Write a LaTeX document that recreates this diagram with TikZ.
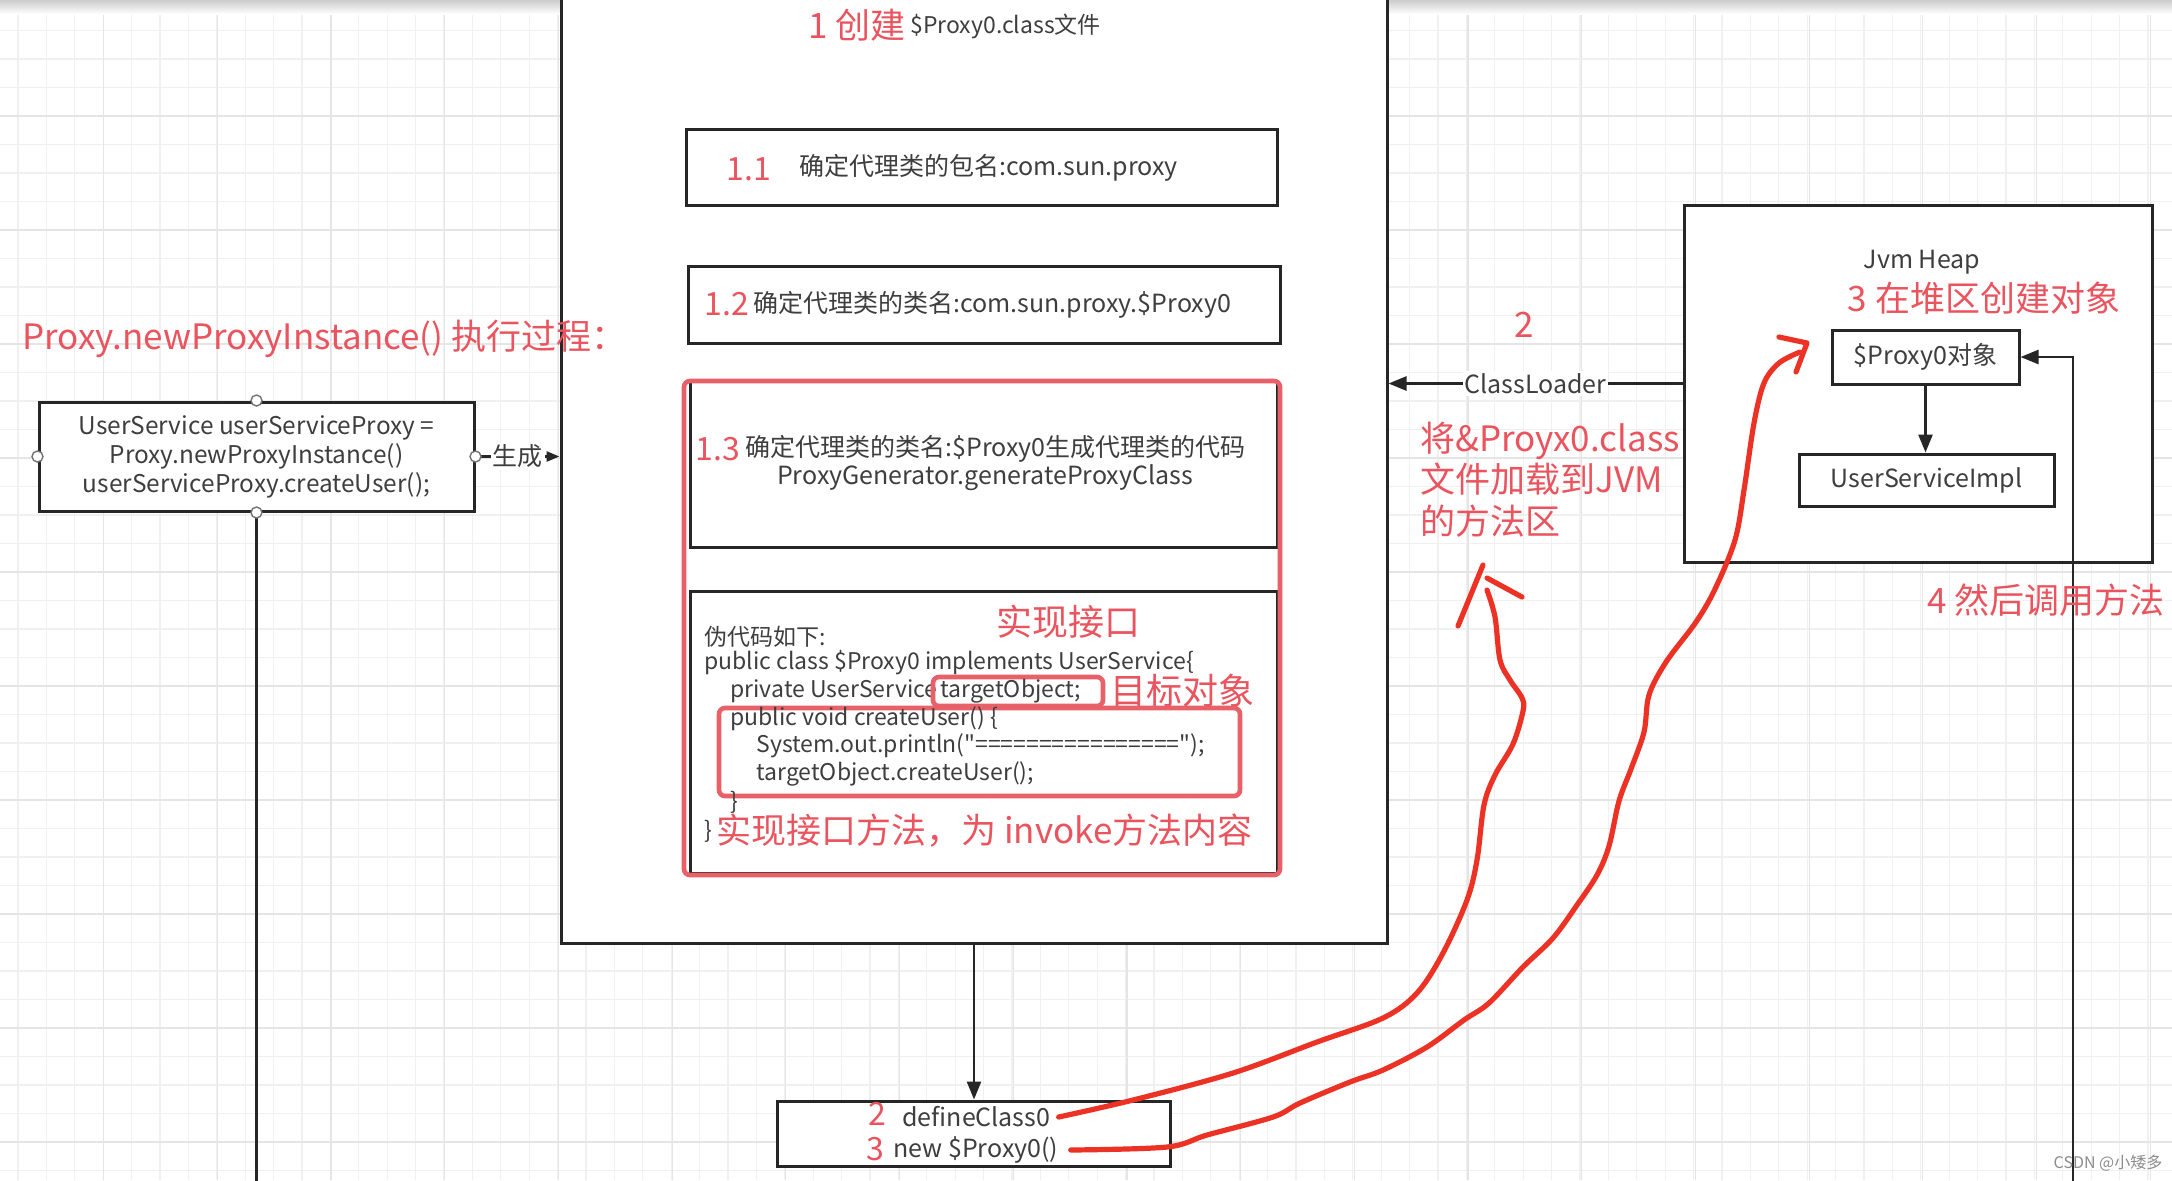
\documentclass[tikz,border=0pt]{standalone}
\usepackage{fontspec}
\setmainfont{Noto Sans CJK SC}[Ligatures=TeXOff]
\usetikzlibrary{arrows.meta}
\definecolor{tgray}{RGB}{62,62,62}
\definecolor{lred}{RGB}{234,84,94}
\definecolor{bred}{RGB}{232,96,104}
\definecolor{hred}{RGB}{236,50,36}
\definecolor{lineblk}{RGB}{38,38,38}
\newcommand\fsz[2]{\fontsize{#1}{#2}\selectfont}
\begin{document}
\begin{tikzpicture}[x=0.5pt,y=-0.5pt,
  box/.style={draw=lineblk, line width=1.5pt, fill=white, inner sep=0pt},
  rbox/.style={draw=bred, line width=2.3pt, rounded corners=3pt, inner sep=0pt},
  conn/.style={draw=lineblk, line width=1.3pt, -{Triangle[length=9pt,width=7pt]}},
  plainline/.style={draw=lineblk, line width=1.3pt},
  gtxt/.style={text=tgray, inner sep=0pt, font=\fsz{12.5}{15}},
  ctxt/.style={text=tgray, inner sep=0pt, font=\fsz{11.5}{14}, anchor=west},
  rtxt/.style={text=lred, inner sep=0pt, font=\fsz{17.5}{21}},
  rnum/.style={text=lred, inner sep=0pt, font=\fsz{16}{18}},
  lbl/.style={fill=white, text=tgray, inner sep=1pt, font=\fsz{12.5}{15}},
  hand/.style={draw=hred, line width=2.6pt, line cap=round, line join=round},
  pin/.style={circle, draw=black!55, fill=white, line width=0.7pt, minimum size=5.5pt, inner sep=0pt},
  gridminor/.style={draw=black!6, line width=0.6pt},
  gridmajor/.style={draw=black!10, line width=0.6pt}]
\clip (0,0) rectangle (2172,1180);
\fill[white] (0,0) rectangle (2172,1180);
% background grid
\foreach \xx in {17.9,46.3,...,2180} \draw[gridminor] (\xx,0) -- (\xx,1180);
\foreach \yy in {2,30.5,...,1190} \draw[gridminor] (0,\yy) -- (2172,\yy);
\foreach \xx in {103.6,217.3,...,2180} \draw[gridmajor] (\xx,0) -- (\xx,1180);
\foreach \yy in {2,116,...,1190} \draw[gridmajor] (0,\yy) -- (2172,\yy);
\shade[top color=black!20, bottom color=white] (0,0) rectangle (2172,14);

% ---------- main box ----------
\node[box, minimum width=413pt, minimum height=486.5pt] (main) at (974,456.5) {};
\node[rtxt, anchor=west] (t1a) at (808,25) {1 创建};
\node[gtxt, font=\fsz{11.5}{14}, anchor=west] (t1b) at (910,26) {\$Proxy0.class文件};

% 1.1
\node[box, minimum width=295.5pt, minimum height=38pt] (b11) at (981.5,167) {};
\node[rnum, anchor=west] (n11) at (726,169) {1.1};
\node[gtxt, anchor=west] (s11) at (799,168) {确定代理类的包名:com.sun.proxy};

% 1.2
\node[box, minimum width=296pt, minimum height=38.5pt] (b12) at (984,304.5) {};
\node[rnum, anchor=west] (n12) at (704,304) {1.2};
\node[gtxt, anchor=west] (s12) at (753,305) {确定代理类的类名:com.sun.proxy.\$Proxy0};

% 1.3
\node[box, minimum width=293.5pt, minimum height=83pt] (b13) at (983.5,464) {};
\node[box, minimum width=293.5pt, minimum height=141pt] (b14) at (983.5,732) {};
\node[rbox, minimum width=298pt, minimum height=247pt] (r13) at (982,628) {};
\node[rnum, anchor=west] (n13) at (695,449) {1.3};
\node[gtxt, anchor=west] (s13a) at (745,449) {确定代理类的类名:\$Proxy0生成代理类的代码};
\node[gtxt] (s13b) at (985,478) {ProxyGenerator.generateProxyClass};

% pseudo code
\node[rtxt, font=\fsz{18}{21}] (impl) at (1068,622) {实现接口};
\node[ctxt] (c1) at (704,637) {伪代码如下:};
\node[ctxt] (c2) at (704,663) {public class \$Proxy0 implements UserService\{};
\node[ctxt] (c3a) at (730,691) {private UserService};
\node[rbox, minimum width=85pt, minimum height=14.5pt] (tobox) at (1018,691.5) {};
\node[ctxt] (c3b) at (940,691) {targetObject;};
\node[rtxt, font=\fsz{18}{21}] (goal) at (1182,691) {目标对象};
\node[rbox, minimum width=260.5pt, minimum height=44pt] (mbox) at (979.5,752) {};
\node[ctxt] (c4) at (730,719) {public void createUser() \{};
\node[ctxt] (c5) at (756,746) {System.out.println("================");};
\node[ctxt] (c6) at (756,774) {targetObject.createUser();};
\node[ctxt] (c7) at (730,802) {\}};
\node[ctxt] (c8) at (704,831) {\}};
\node[rtxt, anchor=west] (c8r) at (716,831) {实现接口方法，为 invoke方法内容};

% ---------- left ----------
\node[rtxt, font=\fsz{17.5}{20}, anchor=west] (ltitle) at (22,339) {Proxy.newProxyInstance() 执行过程：};
\node[box, minimum width=217.5pt, minimum height=54.5pt, align=center, text=tgray, font=\fsz{12.2}{14.5}] (lb) at (256.5,456.5)
  {UserService userServiceProxy =\\Proxy.newProxyInstance()\\userServiceProxy.createUser();};
\coordinate (lbend) at (256.5,1200);
\draw[plainline] (lb.south) -- (lbend);
\draw[conn, -{Triangle[length=6.5pt,width=5pt]}] (lb.east) -- node[lbl, pos=0.5] (gen) {生成} (lb.east -| main.west);
\foreach \a in {north,south,east,west} \node[pin] (lbp-\a) at (lb.\a) {};

% ---------- defineClass box ----------
\node[box, minimum width=196.5pt, minimum height=32.5pt] (dbox) at (973.5,1133.5) {};
\draw[conn] (main.south) -- (main.south |- dbox.north);
\node[rnum, anchor=west] (d2) at (868,1114) {2};
\node[gtxt, anchor=west] (dc1) at (902,1117) {defineClass0};
\node[rnum, anchor=west] (d3) at (866,1149) {3};
\node[gtxt, anchor=west] (dc2) at (893,1150) {new \$Proxy0()};

% ---------- Jvm heap ----------
\node[box, minimum width=234pt, minimum height=178.5pt] (heap) at (1918,383.5) {};
\node[gtxt] (heapt) at (1922,262) {Jvm Heap};
\node[rtxt] (step3) at (1984,298) {3 在堆区创建对象};
\node[box, minimum width=93.5pt, minimum height=27pt] (proxy) at (1925.5,357) {};
\node[gtxt] (proxyt) at (proxy) {\$Proxy0对象};
\node[box, minimum width=127.5pt, minimum height=26pt] (uimpl) at (1926.5,480) {};
\node[gtxt] (uimplt) at (uimpl) {UserServiceImpl};
\draw[conn] (proxy.south) -- (proxy.south |- uimpl.north);
\coordinate (rend) at (2073,1200);
\draw[conn] (rend) |- (proxy.east);
\node[rtxt] (step4) at (2046,600) {4 然后调用方法};

% ClassLoader
\draw[conn] (heap.west) -- node[lbl, pos=0.5] (cl) {ClassLoader} (heap.west -| main.east);
\node[rtxt] (two) at (1524,325) {2};
\node[rtxt, font=\fsz{17.5}{20.75}, align=left, anchor=west] (load) at (1420,479.5) {将\&Proyx0.class\\文件加载到JVM\\的方法区};

% watermark
\node[text=black!45, inner sep=0pt, font=\fsz{8}{9}] (wm) at (2108,1163) {CSDN @小矮多};

% ---------- hand-drawn red strokes ----------
\draw[hand] plot[smooth, tension=0.55] coordinates {([xshift=4pt]dc1.east) (1133,1100) (1233,1073) (1317,1042) (1383,1018) (1417,993) (1443,953) (1467,900) (1477,860) (1484,805) (1495,775) (1513,744) (1523,711) (1522,698) (1510,680) (1500,660) (1495,617) (1487,590)};
\draw[hand] (1458,626) -- (1483,565);
\draw[hand] (1487,578) -- (1522,597);
\draw[hand] plot[smooth, tension=0.55] coordinates {([xshift=6pt]dc2.east) (1167,1147) (1207,1135) (1273,1117) (1300,1103) (1350,1082) (1383,1070) (1427,1047) (1464,1020) (1489,1003) (1523,967) (1553,938) (1577,905) (1597,875) (1609,846) (1619,801) (1631,769) (1644,732) (1649,695) (1666,662) (1696,622) (1715,589) (1735,540) (1744,490) (1754,423) (1764,383) (1779,363) (1800,352)};
\draw[hand] (1779,337) -- (1807,343) -- (1796,372);
\end{tikzpicture}
\end{document}
